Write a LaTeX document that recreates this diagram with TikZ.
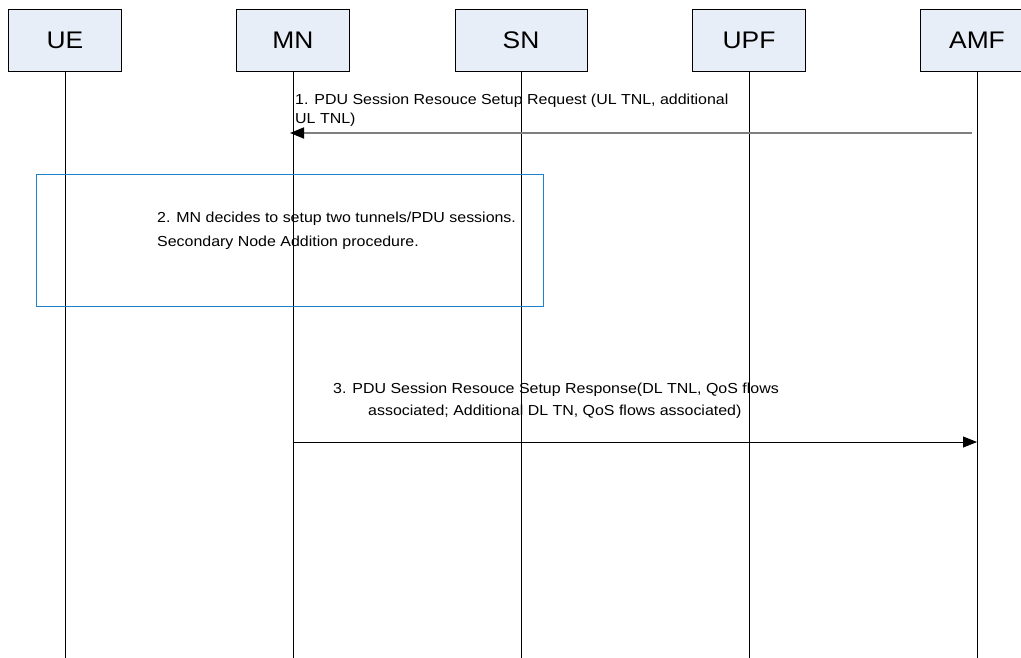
\documentclass[tikz,border=0pt]{standalone}
\usepackage{fontspec}
\setmainfont{Liberation Sans}
\newfontfamily\widesans[FakeStretch=1.1]{Liberation Sans}
\usetikzlibrary{arrows.meta,calc}
\definecolor{headfill}{HTML}{E8EEF7}
\definecolor{procblue}{HTML}{1F80CC}
\definecolor{msggray}{HTML}{7F7F7F}
\begin{document}
\begin{tikzpicture}[x=1pt,y=-1pt,
  entity/.style={draw=black, line width=0.8pt, fill=headfill, minimum width=113pt, minimum height=62pt, inner sep=0pt, font=\widesans\fontsize{24}{28}\selectfont},
  lifeline/.style={draw=black, line width=0.9pt},
  msgtext/.style={inner sep=0pt, align=left, anchor=base west, font=\widesans\fontsize{14.5}{19}\selectfont},
  tip/.style={-{Triangle[length=14pt,width=11pt,color=black]}}
]
\useasboundingbox (0,0) rectangle (1021,657);
\clip (0,0) rectangle (1021,657);
\fill[white] (0,0) rectangle (1021,657);
% entities
\node[entity] (ue)  at (65,40)  {UE};
\node[entity] (mn)  at (293,40) {MN};
\node[entity, minimum width=132pt] (sn)  at (521,40) {SN};
\node[entity] (upf) at (749,40) {UPF};
\node[entity] (amf) at (977,40) {AMF};
% lifeline ends
\coordinate (ueE)  at (65,660);
\coordinate (mnE)  at (293,660);
\coordinate (snE)  at (521,660);
\coordinate (upfE) at (749,660);
\coordinate (amfE) at (977,660);
\draw[lifeline] (ue.south) -- (ueE);
\draw[lifeline] (mn.south) -- (mnE);
\draw[lifeline] (sn.south) -- (snE);
\draw[lifeline] (upf.south) -- (upfE);
\draw[lifeline] (amf.south) -- (amfE);
% message 1
\coordinate (m1s) at (972,133);
\coordinate (m1e) at (290,133);
\draw[tip, msggray, line width=1.8pt] (m1s) -- (m1e);
\node[msgtext] (m1t) at (295,123) {1. PDU Session Resouce Setup Request (UL TNL, additional\\UL TNL)};
% procedure box 2
\node[draw=procblue, line width=1pt, minimum width=507pt, minimum height=132pt, inner sep=0pt] (proc) at (289.5,240) {};
\node[msgtext, font=\widesans\fontsize{14.5}{24}\selectfont] (proct) at (157,246) {2. MN decides to setup two tunnels/PDU sessions.\\Secondary Node Addition procedure.};
% message 3
\coordinate (m3s) at (293,442);
\coordinate (m3e) at (977,442);
\draw[tip, line width=0.8pt] (m3s) -- (m3e);
\node[msgtext, font=\widesans\fontsize{14.5}{22}\selectfont] (m3t) at (333,415) {3. PDU Session Resouce Setup Response(DL TNL, QoS flows\\\hspace*{35pt}associated; Additional DL TN, QoS flows associated)};
\end{tikzpicture}
\end{document}
